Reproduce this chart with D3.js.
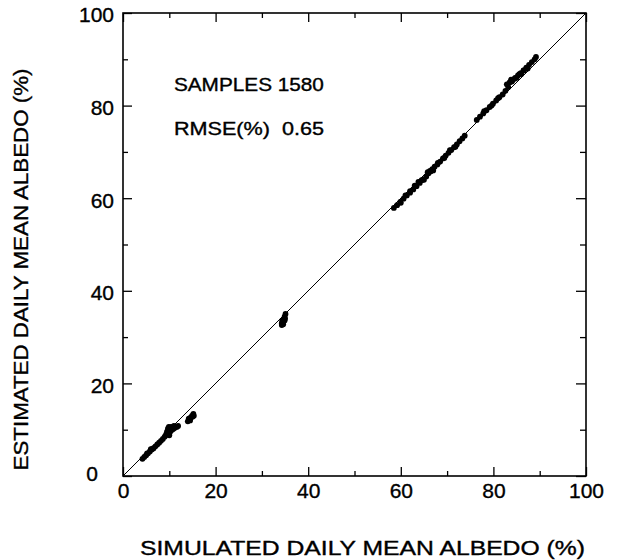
<!DOCTYPE html>
<html>
<head>
<meta charset="utf-8">
<script src="https://cdn.jsdelivr.net/npm/d3@7"></script>
<style>
  body { margin: 0; background: #fff; }
  svg { display: block; }
  text { font-family: "Liberation Sans", Arial, Helvetica, sans-serif; fill: #000; stroke: #000; stroke-width: 0.35px; }
</style>
</head>
<body>
<svg id="chart" width="620" height="560"></svg>
<script>
// ---- data ----
const majorTicks = [0, 20, 40, 60, 80, 100];
const minorTicks = [10, 30, 50, 70, 90];
const xTitle = "SIMULATED DAILY MEAN ALBEDO (%)";
const yTitle = "ESTIMATED DAILY MEAN ALBEDO (%)";
const statLabels = ["SAMPLES 1580", "RMSE(%)\u00a0\u00a00.65"];

// simulated (x) and estimated (y) albedo, %
const simulated = [
  4.2, 4.6, 5.0, 5.4, 5.8, 6.2, 6.6, 7.0, 7.4, 7.8, 8.2, 8.6, 9.0, 9.3, 9.5, 9.7, 9.9, 10.1, 10.3, 10.6, 10.9, 11.2, 11.6, 11.9, 10.0,
  5.2, 6.0, 6.4, 9.6, 10.4, 11.0,
  14.0, 14.3, 14.6, 14.9, 15.2, 14.5, 15.0, 14.2, 15.3,
  34.3, 34.5, 34.7, 34.9, 35.1, 34.6, 34.4, 34.9, 34.3, 35.0,
  58.5, 59.2, 59.9, 60.6, 61.3, 62.0, 62.7, 63.4, 64.1, 64.8, 65.5, 66.0, 66.3, 66.8, 67.3, 67.9, 68.5, 69.1, 69.7, 70.3, 70.9, 71.5, 72.1, 72.7, 73.3, 73.8,
  65.0, 66.5, 64.5, 60.0, 62.0, 63.0, 65.8, 67.0, 68.0, 69.4, 70.6, 71.8, 61.0, 63.8,
  76.4, 77.1, 77.8, 78.5, 79.2, 79.9, 80.6, 81.3, 82.0, 82.6, 82.9, 83.5, 84.1, 84.7, 85.3, 85.9, 86.5, 87.1, 87.7, 88.3, 88.9, 89.2,
  83.2, 84.0, 85.0, 86.0, 83.8, 84.6, 85.6, 86.6, 87.4, 78.0, 79.6, 81.0
];
const estimated = [
  3.7, 4.1, 4.5, 4.9, 5.3, 5.7, 6.0, 6.4, 6.8, 7.2, 7.6, 8.0, 8.5, 9.0, 9.6, 10.2, 10.6, 9.4, 9.8, 10.0, 10.2, 10.4, 10.6, 10.8, 8.8,
  4.9, 5.8, 5.9, 8.9, 10.6, 10.8,
  11.8, 12.2, 12.6, 13.0, 13.4, 12.0, 12.8, 12.4, 13.0,
  32.6, 33.2, 33.8, 34.4, 35.0, 32.8, 33.6, 33.6, 33.0, 34.0,
  57.9, 58.5, 59.2, 59.9, 60.6, 61.2, 61.9, 62.6, 63.3, 64.0, 64.7, 65.4, 65.9, 66.3, 66.8, 67.3, 67.9, 68.6, 69.2, 69.8, 70.4, 71.0, 71.6, 72.3, 72.9, 73.5,
  64.0, 65.8, 63.9, 59.0, 61.5, 62.7, 65.6, 66.0, 67.6, 68.7, 70.4, 71.1, 60.6, 63.5,
  76.9, 77.6, 78.3, 79.0, 79.7, 80.4, 81.1, 81.8, 82.4, 83.2, 84.6, 85.0, 85.5, 86.0, 86.5, 87.0, 87.6, 88.2, 88.8, 89.4, 90.0, 90.5,
  84.0, 85.2, 86.0, 86.8, 85.6, 85.8, 86.8, 87.6, 88.0, 78.8, 80.0, 81.6
];
const points = simulated.map((s, i) => ({ s, e: estimated[i] }));

// ---- layout ----
const svg = d3.select("#chart");
const L = 123, R = 586, T = 13, B = 476;
const x = d3.scaleLinear().domain([0, 100]).range([L, R]);
const y = d3.scaleLinear().domain([0, 100]).range([B, T]);
const fs = 21;

// 1:1 line
svg.append("line")
  .attr("x1", x(0)).attr("y1", y(0)).attr("x2", x(100)).attr("y2", y(100))
  .attr("stroke", "#000").attr("stroke-width", 1);

// points
svg.append("g").selectAll("circle").data(points).join("circle")
  .attr("cx", d => x(d.s)).attr("cy", d => y(d.e))
  .attr("r", 2.9).attr("fill", "#000");

// axes with inward ticks
function axisGroup(axis, tx, ty) {
  const g = svg.append("g").attr("transform", `translate(${tx},${ty})`).call(axis);
  g.select(".domain").remove();
  g.selectAll("line").attr("stroke", "#000").attr("stroke-width", 1.3);
  g.attr("font-family", null).attr("font-size", null);
  return g;
}
// bottom
const gb = axisGroup(d3.axisBottom(x).tickValues(majorTicks).tickSize(-9).tickPadding(7), 0, B);
gb.selectAll("text").attr("font-size", fs);
axisGroup(d3.axisBottom(x).tickValues(minorTicks).tickSize(-5).tickFormat(""), 0, B);
// top
axisGroup(d3.axisTop(x).tickValues(majorTicks).tickSize(-9).tickFormat(""), 0, T);
axisGroup(d3.axisTop(x).tickValues(minorTicks).tickSize(-5).tickFormat(""), 0, T);
// left
const gl = axisGroup(d3.axisLeft(y).tickValues(majorTicks).tickSize(-9).tickPadding(9), L, 0);
gl.selectAll("text").attr("font-size", fs).attr("dy", "0.42em");
gl.selectAll(".tick").filter(d => d === 0).select("text").attr("dx", -16).attr("dy", "0.2em");
axisGroup(d3.axisLeft(y).tickValues(minorTicks).tickSize(-5).tickFormat(""), L, 0);
// right
axisGroup(d3.axisRight(y).tickValues(majorTicks).tickSize(-10).tickFormat(""), R, 0);
axisGroup(d3.axisRight(y).tickValues(minorTicks).tickSize(-6).tickFormat(""), R, 0);

// frame
svg.append("rect")
  .attr("x", L).attr("y", T).attr("width", R - L).attr("height", B - T)
  .attr("fill", "none").attr("stroke", "#000").attr("stroke-width", 1.6);

// stats text
svg.append("g").selectAll("text").data(statLabels).join("text")
  .attr("x", x(11)).attr("y", (d, i) => y(i === 0 ? 83.2 : 73.6))
  .attr("font-size", 17.5)
  .attr("textLength", 150)
  .attr("lengthAdjust", "spacingAndGlyphs")
  .text(d => d);

// axis titles
svg.append("text")
  .attr("x", (L + R) / 2 + 8).attr("y", 555)
  .attr("text-anchor", "middle").attr("font-size", 19.5)
  .attr("textLength", 445).attr("lengthAdjust", "spacingAndGlyphs")
  .text(xTitle);
svg.append("text")
  .attr("transform", `translate(28,${(T + B) / 2 + 25}) rotate(-90)`)
  .attr("text-anchor", "middle").attr("font-size", 19.5)
  .attr("textLength", 402).attr("lengthAdjust", "spacingAndGlyphs")
  .text(yTitle);
</script>
</body>
</html>
